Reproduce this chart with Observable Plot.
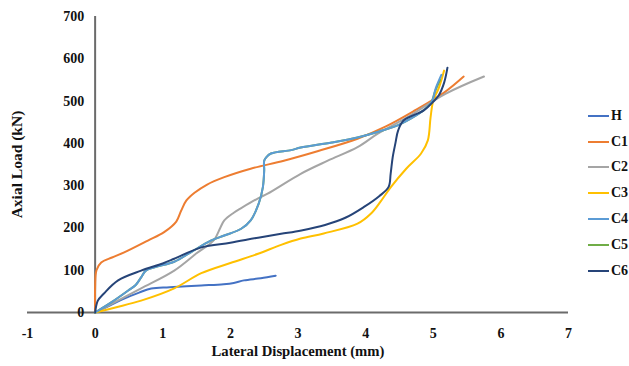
<!DOCTYPE html>
<html>
<head>
<meta charset="utf-8">
<script src="https://cdn.jsdelivr.net/npm/d3@7"></script>
<script src="https://cdn.jsdelivr.net/npm/@observablehq/plot@0.6"></script>
<style>
  body { margin: 0; background: #fff; }
  #wrap { position: relative; width: 629px; height: 366px; font-family: "Liberation Serif", "Times New Roman", serif; font-weight: bold; }
  #legend { position: absolute; left: 588px; top: 103px; font-size: 14px; color: #111; }
  .item { display: flex; align-items: center; height: 25.8px; }
  .sw { width: 21px; height: 2px; margin-right: 2px; }
</style>
</head>
<body>
<div id="wrap"><div id="legend"></div></div>
<script>
const seriesNames = ["H", "C1", "C2", "C3", "C4", "C5", "C6"];
const seriesColors = ["#4472C4", "#ED7D31", "#A5A5A5", "#FFC000", "#5B9BD5", "#70AD47", "#264478"];

const hX = [0, 0.2, 0.43, 0.65, 0.83, 1.1, 1.57, 1.9, 2.05, 2.2, 2.45, 2.67];
const hY = [0, 15, 33, 47, 57, 60, 64, 67, 70, 76, 81, 87];

const c1X = [0, 0, 0.02, 0.09, 0.25, 0.43, 0.78, 1.02, 1.2, 1.27, 1.35, 1.47, 1.65, 1.91, 2.3, 2.79, 3.3, 3.88, 4.3, 4.7, 5.16, 5.45];
const c1Y = [0, 60, 100, 118, 130, 142, 170, 190, 215, 240, 265, 283, 302, 320, 340, 359, 382, 411, 440, 475, 520, 558];

const c2X = [0, 0.3, 0.68, 1.17, 1.5, 1.76, 1.85, 1.91, 2.05, 2.16, 2.41, 2.55, 3.04, 3.44, 3.88, 4.18, 4.6, 5.18, 5.75];
const c2Y = [0, 25, 57, 99, 140, 172, 200, 218, 236, 247, 270, 281, 328, 359, 391, 423, 460, 517, 558];

const c3X = [0, 0.3, 0.68, 1.17, 1.57, 2.0, 2.41, 2.75, 3.04, 3.38, 3.88, 4.08, 4.22, 4.37, 4.6, 4.82, 4.92, 4.96, 5.0, 5.08, 5.16];
const c3Y = [0, 12, 28, 57, 93, 117, 139, 160, 175, 187, 210, 234, 262, 296, 340, 376, 407, 461, 501, 530, 572];

const c4X = [0, 0.25, 0.49, 0.6, 0.68, 0.75, 0.9, 1.17, 1.42, 1.71, 1.91, 2.16, 2.3, 2.42, 2.48, 2.5, 2.5, 2.53, 2.6, 2.9, 3.04, 3.5, 3.88, 4.2, 4.52, 4.96, 5.04, 5.12];
const c4Y = [0, 25, 52, 65, 83, 99, 108, 120, 143, 170, 182, 198, 218, 258, 296, 336, 359, 367, 376, 384, 390, 402, 414, 428, 446, 494, 532, 562];

const c5X = [0, 0.25, 0.49, 0.6, 0.68, 0.75, 0.9, 1.17, 1.42, 1.71, 1.91, 2.16, 2.3, 2.42, 2.48, 2.5, 2.5, 2.53, 2.6, 2.9, 3.04, 3.5, 3.88, 4.2, 4.52, 4.96, 5.02, 5.1];
const c5Y = [0, 25, 52, 65, 83, 99, 108, 120, 143, 170, 182, 198, 218, 258, 296, 336, 359, 367, 376, 384, 390, 402, 414, 428, 446, 494, 520, 550];

const c6X = [0, 0.04, 0.13, 0.34, 0.68, 1.0, 1.17, 1.57, 2.0, 2.41, 2.75, 3.05, 3.4, 3.7, 3.97, 4.2, 4.34, 4.37, 4.4, 4.44, 4.48, 4.56, 4.86, 4.99, 5.08, 5.16, 5.21];
const c6Y = [0, 28, 45, 76, 99, 116, 127, 154, 165, 177, 186, 194, 207, 224, 249, 275, 297, 328, 367, 400, 430, 454, 478, 497, 513, 543, 579];

const xTicks = [-1, 0, 1, 2, 3, 4, 5, 6, 7];
const yTicks = [0, 100, 200, 300, 400, 500, 600, 700];

const seriesXs = [hX, c1X, c2X, c3X, c4X, c5X, c6X];
const seriesYs = [hY, c1Y, c2Y, c3Y, c4Y, c5Y, c6Y];

// Drawing order: C5 underneath C4, rest as Excel order
const drawOrder = ["H", "C1", "C2", "C3", "C5", "C4", "C6"];
const rows = [];
for (const name of drawOrder) {
  const i = seriesNames.indexOf(name);
  seriesXs[i].forEach((x, j) => rows.push({ s: name, x, y: seriesYs[i][j] }));
}

const font = "Liberation Serif, Times New Roman, serif";
const chart = Plot.plot({
  width: 629,
  height: 366,
  marginLeft: 27,
  marginRight: 61,
  marginTop: 16,
  marginBottom: 54,
  x: { domain: [-1, 7], axis: null },
  y: { domain: [0, 700], axis: null },
  color: { domain: seriesNames, range: seriesColors },
  style: { fontFamily: font, fontWeight: "bold", background: "#fff" },
  marks: [
    Plot.ruleY([0], { x1: -1, x2: 7, stroke: "#6b6b6b", strokeWidth: 2 }),
    Plot.ruleX([0], { y1: 0, y2: 700, stroke: "#6b6b6b", strokeWidth: 2 }),
    Plot.line(rows, { x: "x", y: "y", z: "s", stroke: "s", strokeWidth: 2, curve: "catmull-rom" }),
    Plot.text(yTicks, { x: 0, y: d => d, text: d => String(d), dx: -11, textAnchor: "end", fontSize: 14, fill: "#111" }),
    Plot.text(xTicks, { x: d => d, y: 0, text: d => String(d), dy: 21, fontSize: 14, fill: "#111" }),
    Plot.text(["Lateral Displacement (mm)"], { frameAnchor: "bottom", dy: 43, fontSize: 14.7, fill: "#111" }),
    Plot.text(["Axial Load (kN)"], { frameAnchor: "left", textAnchor: "middle", dx: -10, rotate: -90, fontSize: 15.5, fill: "#111" })
  ]
});
const wrap = document.getElementById("wrap");
wrap.insertBefore(chart, wrap.firstChild);

const legend = document.getElementById("legend");
seriesNames.forEach((n, i) => {
  const it = document.createElement("div");
  it.className = "item";
  const sw = document.createElement("span");
  sw.className = "sw";
  sw.style.background = seriesColors[i];
  const lb = document.createElement("span");
  lb.textContent = n;
  it.appendChild(sw); it.appendChild(lb);
  legend.appendChild(it);
});
</script>
</body>
</html>
